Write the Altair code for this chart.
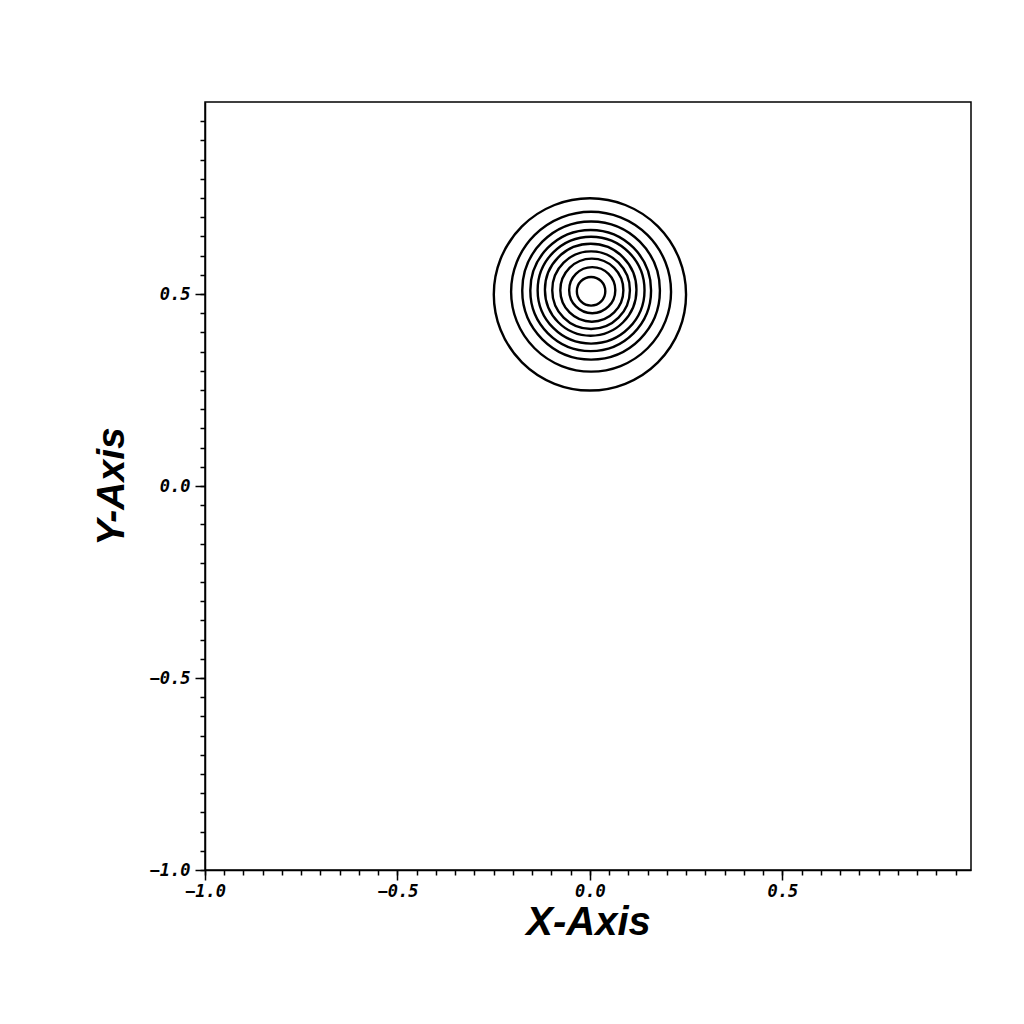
import altair as alt
import pandas as pd

# Contour rings (data units)
RING = [1, 2, 3, 4, 5, 6, 7, 8, 9, 10]
RADIUS = [0.037, 0.060, 0.082, 0.101, 0.119, 0.139, 0.157, 0.179, 0.208, 0.250]
CENTER_X = [0.003, 0.006, 0.005, 0.003, 0.002, 0.003, 0.002, 0.003, 0.003, 0.0]
CENTER_Y = [0.507, 0.510, 0.510, 0.510, 0.511, 0.510, 0.509, 0.509, 0.506, 0.499]

MAJOR_TICKS = [-1.0, -0.5, 0.0, 0.5]
MINOR_TICKS = [round(-1.0 + 0.05 * i, 2) for i in range(40)]

df = pd.DataFrame({"ring": RING, "r": RADIUS, "x": CENTER_X, "y": CENTER_Y})

W, H = 766, 768
xscale = alt.Scale(domain=[-1.0, 0.99], nice=False, zero=False)
yscale = alt.Scale(domain=[-1.0, 1.0], nice=False, zero=False)

LABEL_FONT = "DejaVu Sans Mono"
TITLE_FONT = "Liberation Sans"

common = dict(grid=False, tickColor="black", tickWidth=1.5, domainColor="black",
              domainWidth=1.5, labelColor="black", titleColor="black")

major_x = alt.Axis(values=MAJOR_TICKS, tickSize=10, format=".1f", title="X-Axis",
                   orient="bottom", labelFont=LABEL_FONT, labelFontSize=17,
                   labelFontWeight="bold", labelFontStyle="italic", labelFlush=False,
                   labelOverlap=False, labelPadding=3, titleFont=TITLE_FONT,
                   titleFontSize=40, titleFontWeight="bold", titleFontStyle="italic",
                   titlePadding=3, **common)
major_y = alt.Axis(values=MAJOR_TICKS, tickSize=10, format=".1f", title="Y-Axis",
                   orient="left", labelFont=LABEL_FONT, labelFontSize=17,
                   labelFontWeight="bold", labelFontStyle="italic", labelFlush=False,
                   labelOverlap=False, labelPadding=5, titleFont=TITLE_FONT,
                   titleFontSize=39, titleFontWeight="bold", titleFontStyle="italic",
                   titlePadding=18, **common)
minor_x = alt.Axis(values=MINOR_TICKS, tickSize=5, labels=False, domain=False, title="",
                   orient="bottom", grid=False, tickColor="black", tickWidth=1.5)
minor_y = alt.Axis(values=MINOR_TICKS, tickSize=5, labels=False, domain=False, title="",
                   orient="left", grid=False, tickColor="black", tickWidth=1.5)

size_scale = alt.Scale(type="pow", exponent=2, domain=[0, 1], range=[0, 769 * 769])

rings = alt.Chart(df).mark_point(shape="circle", filled=False, color="black",
                                 strokeWidth=2.4, opacity=1).encode(
    x=alt.X("x:Q", scale=xscale, axis=major_x),
    y=alt.Y("y:Q", scale=yscale, axis=major_y),
    size=alt.Size("r:Q", scale=size_scale, legend=None),
    detail="ring:O",
)

minor = alt.Chart(df).mark_point(opacity=0).encode(
    x=alt.X("x:Q", scale=xscale, axis=minor_x),
    y=alt.Y("y:Q", scale=yscale, axis=minor_y),
)

chart = alt.layer(rings, minor).resolve_axis(x="independent", y="independent").properties(
    width=W, height=H,
    autosize=alt.AutoSizeParams(type="none"),
    padding={"left": 197, "top": 94, "right": 40, "bottom": 130},
    background="white",
).configure_view(stroke="black", strokeWidth=1.5)

chart.save("out.html", embed_options={"renderer": "svg", "actions": False})
